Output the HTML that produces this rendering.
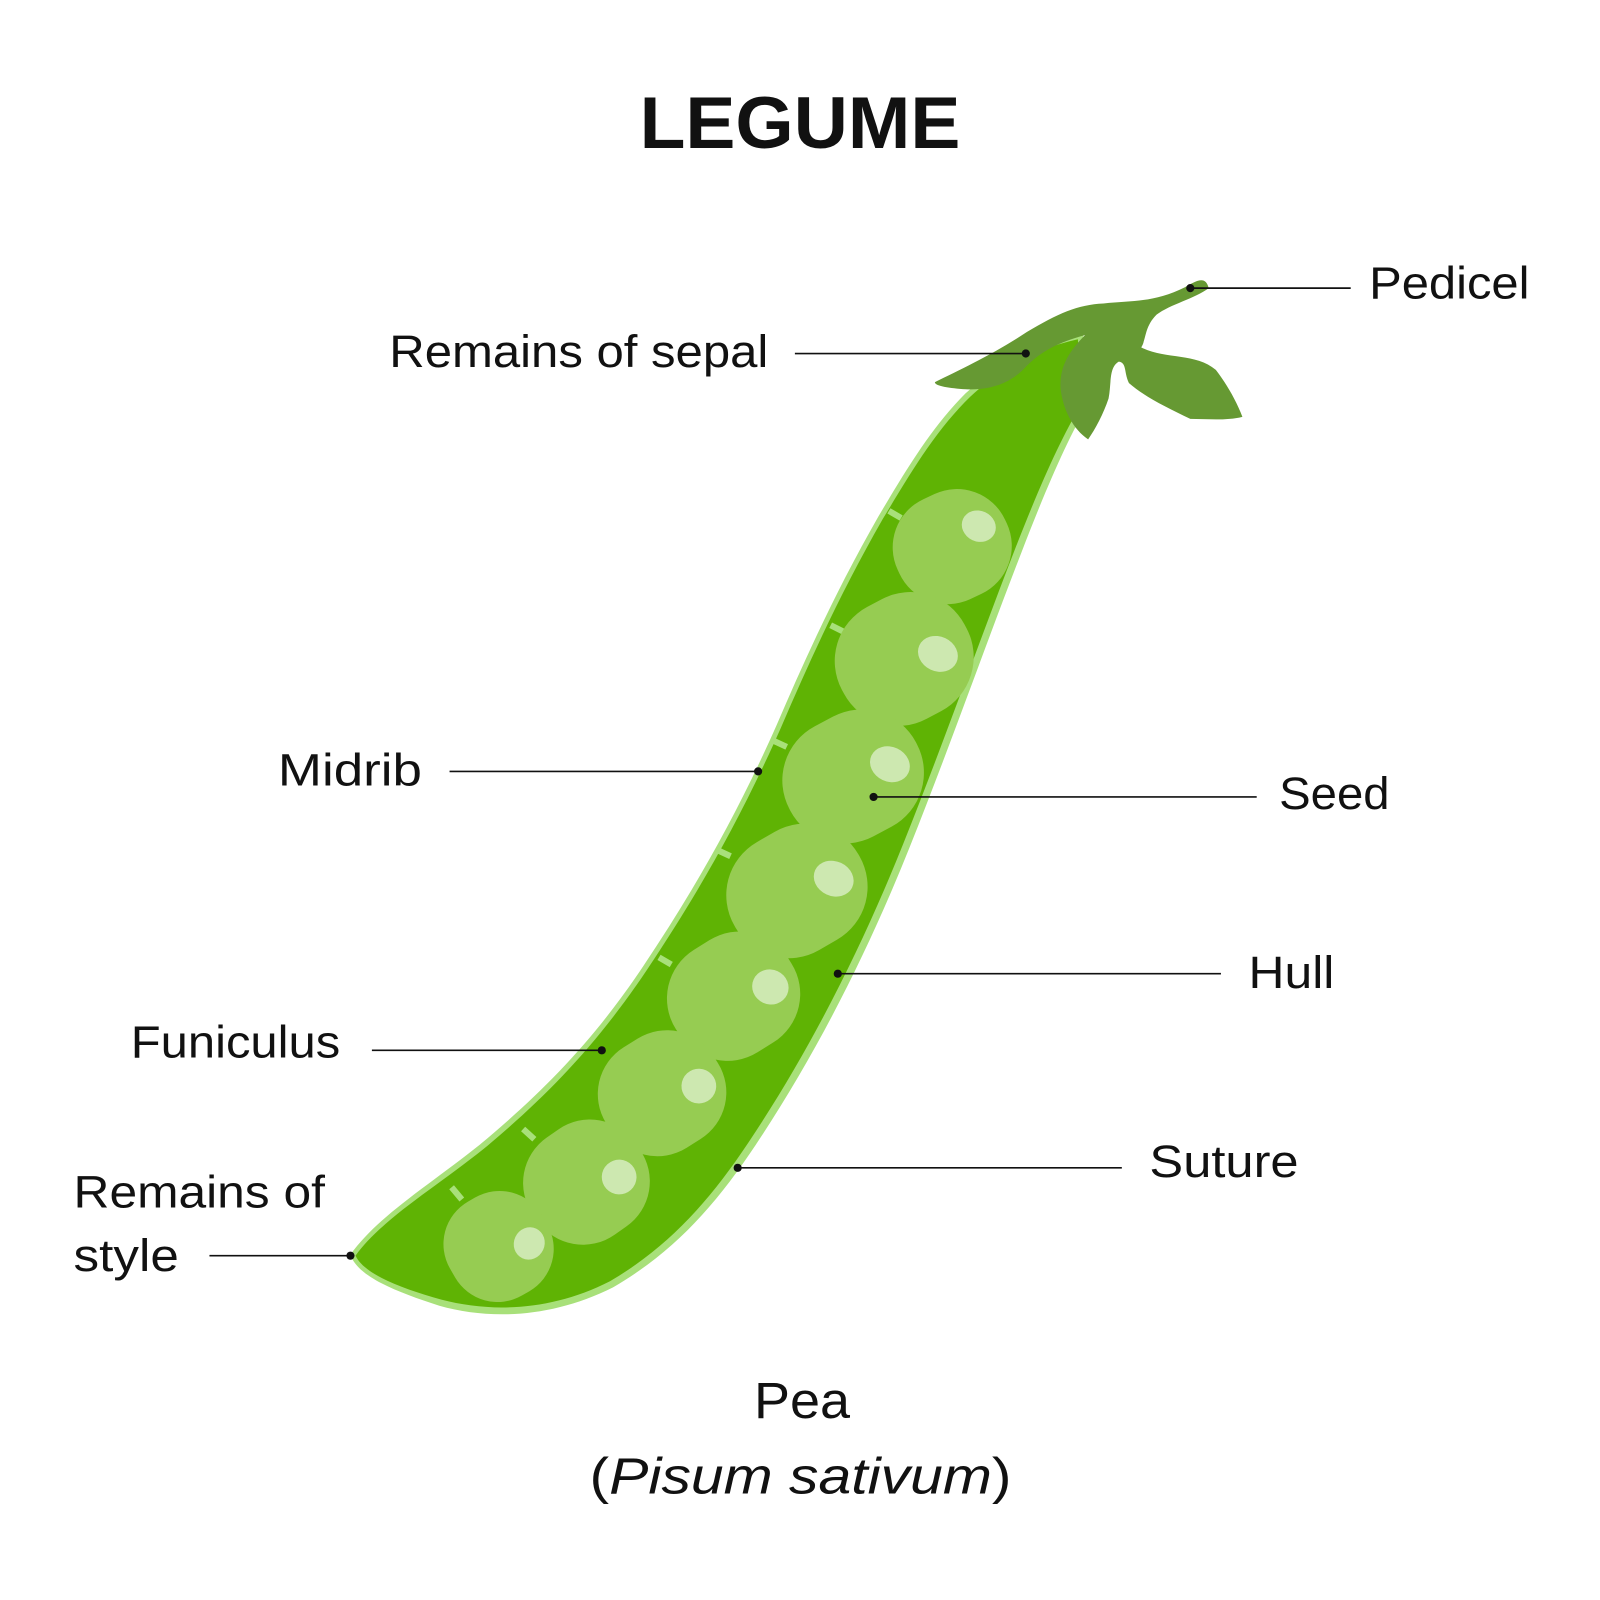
<!DOCTYPE html>
<html><head><meta charset="utf-8"><style>
html,body{margin:0;padding:0;background:#fff;}
svg{display:block;}
text{font-family:"Liberation Sans","DejaVu Sans",sans-serif;fill:#111;}
</style></head><body>
<svg width="1600" height="1600" viewBox="0 0 1566 1566" xmlns="http://www.w3.org/2000/svg">
<rect width="1566" height="1566" fill="#fff"/>
<text x="783" y="145" text-anchor="middle" font-size="72" font-weight="bold" textLength="314" lengthAdjust="spacingAndGlyphs">LEGUME</text>

<path d="M945,385 C912,418 888,458 860,505 C820,575 790,640 760,710 C720,800 680,870 630,945 C580,1020 530,1070 470,1120 C420,1160 370,1190 343,1228 C350,1250 390,1265 430,1278 C480,1292 540,1290 600,1260 C660,1225 700,1180 740,1120 C800,1030 850,930 890,830 C930,730 965,630 1000,540 C1025,475 1045,430 1065,395 L1060,325 C1010,335 975,358 945,385 Z" fill="#a8e07a"/>
<path d="M950,388 C916,421 893,460 864,508 C824,578 794,643 764,713 C724,803 684,873 634,948 C584,1023 534,1074 474,1124 C424,1164 374,1193 348,1229 C356,1247 393,1261 432,1272 C482,1285 540,1283 597,1254 C655,1220 695,1175 734,1116 C794,1026 844,926 884,826 C924,726 959,626 994,536 C1019,472 1038,430 1058,396 L1055,332 C1010,342 978,362 950,388 Z" fill="#5fb304"/>

<g stroke="#a8e07a" stroke-width="6">
<line x1="870" y1="500" x2="882" y2="507"/>
<line x1="813" y1="612" x2="825" y2="618"/>
<line x1="757" y1="725" x2="770" y2="731"/>
<line x1="702" y1="832" x2="715" y2="838"/>
<line x1="645" y1="937" x2="657" y2="944"/>
<line x1="512" y1="1105" x2="523" y2="1115"/>
<line x1="442" y1="1162" x2="452" y2="1174"/>
</g>

<g fill="#96cc52">
<rect x="-58" y="-54" width="116" height="108" rx="52" transform="translate(932,535) rotate(-25)"/>
<rect x="-68" y="-62" width="136" height="124" rx="60" transform="translate(885,645) rotate(-28)"/>
<rect x="-70" y="-61" width="140" height="122" rx="60" transform="translate(835,760) rotate(-28)"/>
<rect x="-70" y="-61" width="140" height="122" rx="60" transform="translate(780,872) rotate(-30)"/>
<rect x="-65" y="-59" width="130" height="118" rx="56" transform="translate(718,975) rotate(-32)"/>
<rect x="-62" y="-58" width="124" height="116" rx="54" transform="translate(648,1070) rotate(-32)"/>
<rect x="-61" y="-58" width="122" height="116" rx="54" transform="translate(574,1157) rotate(-35)"/>
<rect x="-52" y="-53" width="104" height="106" rx="48" transform="translate(488,1220) rotate(-30)"/>
</g>
<g fill="#cde8b0">
<ellipse cx="958" cy="515" rx="17" ry="15" transform="rotate(25 958 515)"/>
<ellipse cx="918" cy="640" rx="20" ry="17" transform="rotate(25 918 640)"/>
<ellipse cx="871" cy="748" rx="20" ry="17" transform="rotate(25 871 748)"/>
<ellipse cx="816" cy="860" rx="20" ry="17" transform="rotate(25 816 860)"/>
<ellipse cx="754" cy="966" rx="18" ry="17" transform="rotate(25 754 966)"/>
<ellipse cx="684" cy="1063" rx="17" ry="17" transform="rotate(25 684 1063)"/>
<ellipse cx="606" cy="1152" rx="17" ry="17" transform="rotate(25 606 1152)"/>
<ellipse cx="518" cy="1217" rx="15" ry="16" transform="rotate(25 518 1217)"/>
</g>

<path d="M915,374 C940,362 975,345 1005,325 C1035,307 1055,298 1080,297 C1110,294 1130,296 1160,281 C1172,274 1180,270 1183,282 C1170,292 1145,298 1132,308 C1120,320 1122,332 1117,340 C1140,352 1170,345 1190,362 C1200,375 1210,392 1216,408 C1200,412 1180,410 1165,410 C1140,398 1120,388 1105,375 C1100,365 1103,355 1095,354 C1085,360 1088,375 1085,390 C1080,405 1072,420 1065,430 C1050,420 1040,400 1038,380 C1037,360 1045,345 1062,328 C1035,335 1018,345 1005,358 C990,375 970,382 945,381 C930,380 915,378 915,374 Z" fill="#669933"/>

<g stroke="#111" stroke-width="1.6">
<line x1="1165" y1="282" x2="1322" y2="282"/>
<line x1="778" y1="346" x2="1004" y2="346"/>
<line x1="440" y1="755" x2="742" y2="755"/>
<line x1="855" y1="780" x2="1230" y2="780"/>
<line x1="820" y1="953" x2="1195" y2="953"/>
<line x1="364" y1="1028" x2="589" y2="1028"/>
<line x1="722" y1="1143" x2="1098" y2="1143"/>
<line x1="205" y1="1229" x2="343" y2="1229"/>
</g>
<g fill="#111">
<circle cx="1165" cy="282" r="4"/><circle cx="1004" cy="346" r="4"/>
<circle cx="742" cy="755" r="4"/><circle cx="855" cy="780" r="4"/>
<circle cx="820" cy="953" r="4"/><circle cx="589" cy="1028" r="4"/>
<circle cx="722" cy="1143" r="4"/><circle cx="343" cy="1229" r="4"/>
</g>

<g font-size="44">
<text x="1340" y="292" textLength="157" lengthAdjust="spacingAndGlyphs">Pedicel</text>
<text x="381" y="359" textLength="371" lengthAdjust="spacingAndGlyphs">Remains of sepal</text>
<text x="272" y="769" textLength="141" lengthAdjust="spacingAndGlyphs">Midrib</text>
<text x="1252" y="792" textLength="108" lengthAdjust="spacingAndGlyphs">Seed</text>
<text x="1222" y="967" textLength="84" lengthAdjust="spacingAndGlyphs">Hull</text>
<text x="128" y="1035" textLength="205" lengthAdjust="spacingAndGlyphs">Funiculus</text>
<text x="1125" y="1152" textLength="146" lengthAdjust="spacingAndGlyphs">Suture</text>
<text x="72" y="1182" textLength="246" lengthAdjust="spacingAndGlyphs">Remains of</text>
<text x="72" y="1244" textLength="103" lengthAdjust="spacingAndGlyphs">style</text>
<text x="738" y="1388" font-size="50" textLength="94" lengthAdjust="spacingAndGlyphs">Pea</text>
<text x="577" y="1462" font-size="50" textLength="413" lengthAdjust="spacingAndGlyphs">(<tspan font-style="italic">Pisum sativum</tspan>)</text>
</g>
</svg>
</body></html>
